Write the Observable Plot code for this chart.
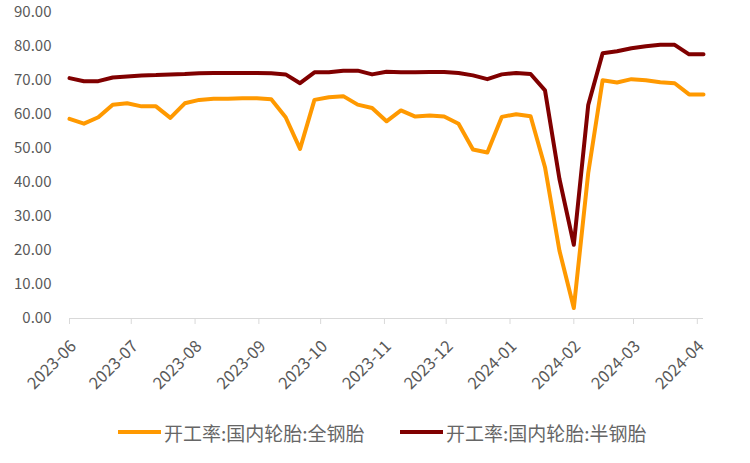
<!DOCTYPE html>
<html><head><meta charset="utf-8">
<script src="https://cdn.jsdelivr.net/npm/d3@7"></script>
<script src="https://cdn.jsdelivr.net/npm/@observablehq/plot@0.6"></script>
<style>
body{margin:0;background:#fff;}
#chart{width:750px;height:463px;position:relative;font-family:"Noto Sans CJK SC","Noto Sans",sans-serif;color:#595959;}
#legend{position:absolute;left:0;top:412px;width:750px;height:40px;}
.item{position:absolute;top:0;display:flex;align-items:center;height:40px;font-size:19px;color:#666;white-space:nowrap;}
.item svg{margin-right:3px;}
</style></head><body><div id="chart"></div>
<script>
const dates = ["2023-06-01","2023-06-08","2023-06-15","2023-06-22","2023-06-29","2023-07-06","2023-07-13","2023-07-20","2023-07-27","2023-08-03","2023-08-10","2023-08-17","2023-08-24","2023-08-31","2023-09-07","2023-09-14","2023-09-21","2023-09-28","2023-10-05","2023-10-12","2023-10-19","2023-10-26","2023-11-02","2023-11-09","2023-11-16","2023-11-23","2023-11-30","2023-12-07","2023-12-14","2023-12-21","2023-12-28","2024-01-04","2024-01-11","2024-01-18","2024-01-25","2024-02-01","2024-02-08","2024-02-15","2024-02-22","2024-02-29","2024-03-07","2024-03-14","2024-03-21","2024-03-28","2024-04-04"];
const allSteel = [58.7,57.3,59.2,62.9,63.3,62.4,62.4,59.0,63.3,64.3,64.6,64.6,64.8,64.8,64.5,59.2,49.9,64.3,65.1,65.4,62.9,61.9,58.0,61.2,59.4,59.7,59.4,57.3,49.7,48.8,59.3,60.1,59.5,44.5,20.0,3.1,42.8,70.1,69.4,70.4,70.1,69.5,69.2,65.9,65.9];
const semiSteel = [70.7,69.8,69.8,70.9,71.2,71.5,71.6,71.8,71.9,72.1,72.2,72.2,72.2,72.2,72.1,71.8,69.2,72.4,72.4,72.9,72.9,71.8,72.6,72.4,72.4,72.5,72.5,72.2,71.5,70.4,71.8,72.2,71.9,67.1,41.1,21.7,62.8,78.0,78.6,79.5,80.1,80.5,80.5,77.7,77.7];
const seriesNames = ["开工率:国内轮胎:全钢胎","开工率:国内轮胎:半钢胎"];
const colors = ["#FF9900","#800000"];
const yTicks = [0,10,20,30,40,50,60,70,80,90];
const monthTicks = ["2023-06-01","2023-07-01","2023-08-01","2023-09-01","2023-10-01","2023-11-01","2023-12-01","2024-01-01","2024-02-01","2024-03-01","2024-04-01"];
const xDomain = ["2023-06-01","2024-04-04"];

const parse = d3.utcParse("%Y-%m-%d");
const rows = [];
[allSteel, semiSteel].forEach((vals, s) => {
  vals.forEach((v, i) => rows.push({date: parse(dates[i]), value: v, series: seriesNames[s]}));
});

const plot = Plot.plot({
  width: 750,
  height: 412,
  marginLeft: 69,
  marginRight: 47,
  marginTop: 12,
  marginBottom: 94,
  style: {fontFamily: '"Noto Sans CJK SC","Noto Sans",sans-serif', fontSize: "15px", color: "#595959", background: "#fff"},
  x: {type: "utc", domain: xDomain.map(parse)},
  y: {domain: [0, 90]},
  color: {domain: seriesNames, range: colors},
  marks: [
    Plot.ruleY([0], {stroke: "#d9d9d9", strokeWidth: 1}),
    Plot.axisY({ticks: yTicks, tickFormat: d => d.toFixed(2), tickSize: 0, tickPadding: 18, fill: "#595959", fontSize: 15, label: null}),
    Plot.axisX({ticks: monthTicks.map(parse), tickSize: 6, stroke: "#d9d9d9", text: null, label: null}),
    Plot.axisX({ticks: monthTicks.map(parse), tickFormat: d3.utcFormat("%Y-%m"), tickRotate: -45, tickSize: 0, fill: "#595959", fontSize: 16.5, tickPadding: 25, dx: 4, label: null}),
    Plot.line(rows, {x: "date", y: "value", z: "series", stroke: "series", strokeWidth: 4, strokeLinejoin: "round", strokeLinecap: "round"})
  ]
});
const chart = document.getElementById("chart");
chart.appendChild(plot);

const legend = document.createElement("div");
legend.id = "legend";
const lefts = [118, 400];
seriesNames.forEach((name, i) => {
  const it = document.createElement("div");
  it.className = "item";
  it.style.left = lefts[i] + "px";
  it.innerHTML = `<svg width="43" height="10"><line x1="0" y1="5" x2="43" y2="5" stroke="${colors[i]}" stroke-width="4"/></svg><span>${name}</span>`;
  legend.appendChild(it);
});
chart.appendChild(legend);
</script></body></html>
